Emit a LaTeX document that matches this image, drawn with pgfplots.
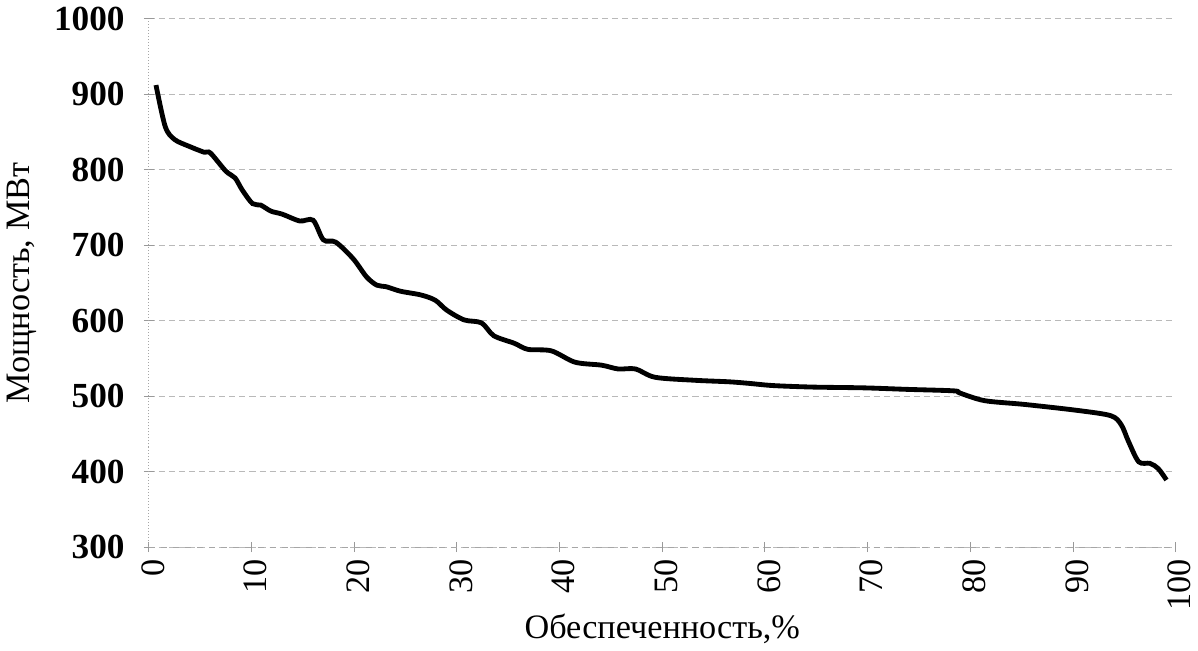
\documentclass[border=0pt]{standalone}
\usepackage{fontspec}
\setmainfont{Liberation Serif}
\usepackage{pgfplots}
\pgfplotsset{compat=1.18}

\begin{document}
\begin{tikzpicture}
\begin{axis}[
    scale only axis,
    width=510pt,
    height=262.5pt,
    xmin=0, xmax=100,
    ymin=300, ymax=1000,
    xtick={0,10,...,100},
    ytick={300,400,...,1000},
    axis lines=left,
    axis line style={-, gray!70, densely dotted, line width=0.5pt},
    x axis line style={dashed},
    ymajorgrids,
    grid style={gray!55, densely dashed, line width=0.45pt},
    tick style={gray!80, line width=0.5pt},
    major tick length=5pt,
    /pgf/number format/assume math mode=true,
    /pgf/number format/1000 sep={},
    tick label style={font=\fontsize{17}{20}\selectfont},
    yticklabel style={font=\fontsize{17.5}{20}\selectfont\bfseries, xshift=-6pt},
    xticklabel style={rotate=90, anchor=east, yshift=-2pt},
    label style={font=\fontsize{17}{20}\selectfont},
    xlabel={Обеспеченность,\%},
    xlabel style={yshift=5pt},
    ylabel={Мощность, МВт},
    ylabel style={yshift=2pt},
    clip=false,
]
\addplot[black, line width=2.4pt, smooth, tension=0.5] coordinates {
(0.7,912) (1.6,857) (2.5,840) (3.9,831) (5.4,823) (6.0,822) (7.5,798)
(8.4,789) (9.1,773) (10.1,755) (10.9,753) (11.9,745) (13.0,741) (14.7,732)
(16.0,733) (17.0,707) (18.2,704) (19.9,682) (21.2,658) (22.2,647) (23.1,645)
(24.5,639) (26.5,634) (27.9,627) (29.0,614) (30.7,601) (32.4,597) (33.6,580)
(35.6,570) (36.9,562) (39.2,560) (41.5,545) (44.1,541) (45.7,536) (47.4,536)
(49.3,525) (53.2,521) (56.5,519) (58.4,517) (60.8,514) (64.7,512) (69.6,511)
(73.8,509) (78.4,507) (79.0,504) (81.4,494) (85.3,489) (90.5,481) (93.7,474)
(94.7,462) (95.4,440) (96.4,413) (97.5,411) (98.3,404) (99.1,389)
};
\end{axis}
\end{tikzpicture}
\end{document}
